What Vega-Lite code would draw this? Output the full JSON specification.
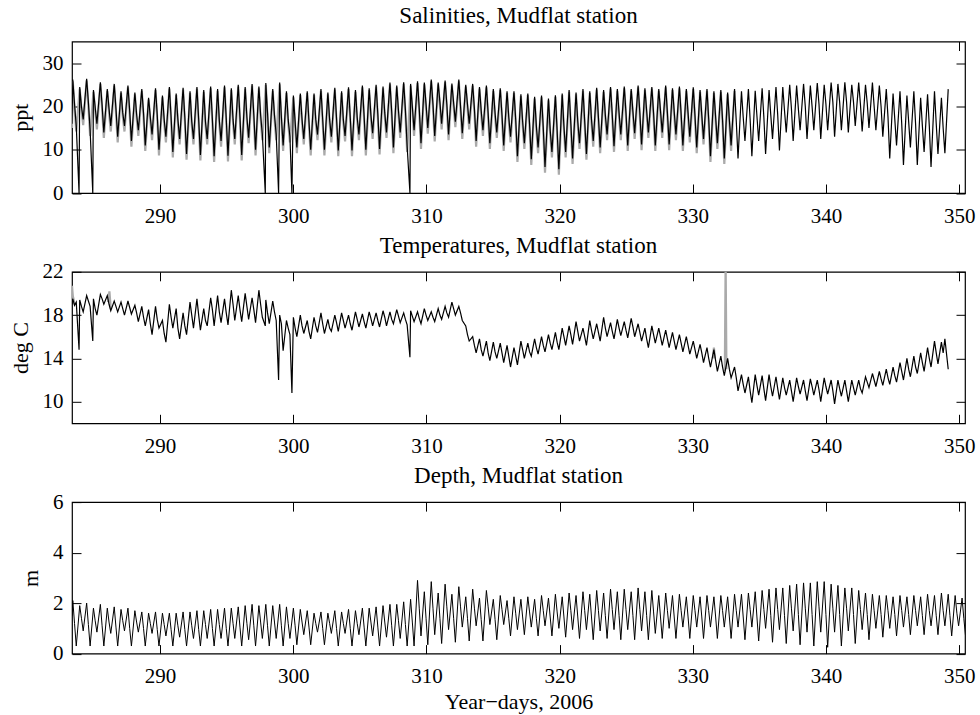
{
"$schema":"https://vega.github.io/schema/vega-lite/v6.json",
"padding":{"left":8,"top":3.5,"right":5,"bottom":3},
"bounds":"flush",
"spacing":78.3,
"config":{
 "font":"Liberation Serif",
 "view":{"stroke":"black","strokeWidth":1.2},
 "axis":{"domain":false,"grid":false,"tickColor":"black","tickSize":-9,"tickWidth":1,"labelFont":"Liberation Serif","labelFontSize":21,"labelColor":"black","titleFont":"Liberation Serif","titleFontSize":22,"titleFontWeight":"normal","titleColor":"black","labelFlush":false,"labelOverlap":false},
 "axisX":{"labelPadding":21,"titlePadding":5},
 "axisY":{"labelPadding":18,"titlePadding":10},
 "title":{"font":"Liberation Serif","fontSize":23,"fontWeight":"normal","color":"black","anchor":"middle","baseline":"alphabetic"},
 "line":{"invalid":"filter"}
},
"datasets":{
"m":[
{"t":283.39,"s":16,"g":15,"c":19.0,"d":1.5},
{"t":283.45,"s":26.2,"g":25.8,"c":19.5,"d":2.1},{"t":283.58,"s":20.5,"g":19.7,"c":18.9,"d":1.2},{"t":283.71,"s":15.5,"g":14.2,"c":19.2,"d":0.3},
{"t":283.92,"s":0,"c":14.8},
{"t":283.97,"s":24.5,"g":24.1,"c":19.4,"d":1.9},{"t":284.10,"s":20.0,"g":19.2,"c":18.8,"d":1.4},{"t":284.23,"s":17.0,"g":15.7,"c":18.3,"d":0.9},
{"t":284.49,"s":26.4,"g":26.0,"c":19.8,"d":2.0},{"t":284.62,"s":21.0,"g":20.2,"c":19.3,"d":1.15},{"t":284.75,"s":14.5,"g":13.2,"c":18.8,"d":0.3},
{"t":284.95,"s":0,"c":15.6},
{"t":285.00,"s":23.8,"g":23.4,"c":19.5,"d":1.8},{"t":285.13,"s":19.8,"g":19.0,"c":18.6,"d":1.3},{"t":285.26,"s":16.0,"g":14.7,"c":18.0,"d":0.85},
{"t":285.52,"s":25.6,"g":25.2,"c":19.9,"d":1.95},{"t":285.65,"s":20.3,"g":19.5,"c":19.5,"d":1.1},{"t":285.78,"s":14.0,"g":12.7,"c":19.0,"d":0.3},
{"t":286.04,"s":24.0,"g":23.6,"c":19.8,"d":1.8},{"t":286.17,"s":19.5,"g":18.7,"c":19.0,"d":1.25},{"t":286.30,"s":15.5,"g":14.2,"c":18.4,"d":0.8},
{"t":286.56,"s":25.2,"g":24.8,"c":19.3,"d":1.85},{"t":286.69,"s":19.5,"g":18.7,"c":18.8,"d":1.05},{"t":286.82,"s":13.0,"g":11.7,"c":18.3,"d":0.3},
{"t":287.07,"s":23.5,"g":23.1,"c":19.2,"d":1.75},{"t":287.20,"s":18.5,"g":17.7,"c":18.6,"d":1.3},{"t":287.33,"s":15.5,"g":14.2,"c":18.0,"d":0.9},
{"t":287.59,"s":24.8,"g":24.4,"c":19.3,"d":1.8},{"t":287.72,"s":19.0,"g":18.2,"c":18.7,"d":1.0},{"t":287.85,"s":12.0,"g":10.7,"c":18.1,"d":0.3},
{"t":288.11,"s":23.2,"g":22.8,"c":18.9,"d":1.7},{"t":288.24,"s":18.2,"g":17.4,"c":18.2,"d":1.25},{"t":288.37,"s":14.5,"g":13.2,"c":17.4,"d":0.85},
{"t":288.63,"s":24.0,"g":23.6,"c":18.8,"d":1.65},{"t":288.76,"s":18.5,"g":17.7,"c":17.8,"d":1.0},{"t":288.89,"s":11.0,"g":9.7,"c":17.0,"d":0.3},
{"t":289.14,"s":22.0,"g":21.6,"c":18.5,"d":1.6},{"t":289.27,"s":17.5,"g":16.7,"c":17.2,"d":1.2},{"t":289.40,"s":13.5,"g":12.2,"c":16.2,"d":0.8},
{"t":289.66,"s":24.2,"g":23.8,"c":18.8,"d":1.65},{"t":289.79,"s":18.0,"g":17.2,"c":17.6,"d":0.95},{"t":289.92,"s":10.0,"g":8.7,"c":16.8,"d":0.3},
{"t":290.18,"s":22.5,"g":22.1,"c":17.5,"d":1.6},{"t":290.31,"s":17.0,"g":16.2,"c":16.3,"d":1.15},{"t":290.44,"s":13.0,"g":11.7,"c":15.5,"d":0.7},
{"t":290.70,"s":24.5,"g":24.1,"c":19.0,"d":1.6},{"t":290.83,"s":17.5,"g":16.7,"c":17.8,"d":0.95},{"t":290.96,"s":9.5,"g":8.2,"c":16.8,"d":0.3},
{"t":291.21,"s":23.0,"g":22.6,"c":18.6,"d":1.6},{"t":291.34,"s":17.0,"g":16.2,"c":16.8,"d":1.1},{"t":291.47,"s":12.5,"g":11.2,"c":15.8,"d":0.65},
{"t":291.73,"s":24.3,"g":23.9,"c":18.2,"d":1.65},{"t":291.86,"s":17.5,"g":16.7,"c":17.0,"d":0.95},{"t":291.99,"s":9.0,"g":7.7,"c":16.2,"d":0.3},
{"t":292.25,"s":23.5,"g":23.1,"c":19.2,"d":1.65},{"t":292.38,"s":16.5,"g":15.7,"c":18.0,"d":1.1},{"t":292.51,"s":12.5,"g":11.2,"c":16.8,"d":0.6},
{"t":292.77,"s":24.5,"g":24.1,"c":19.5,"d":1.7},{"t":292.90,"s":17.0,"g":16.2,"c":18.0,"d":0.95},{"t":293.03,"s":8.8,"g":7.5,"c":16.6,"d":0.3},
{"t":293.28,"s":23.8,"g":23.4,"c":18.6,"d":1.7},{"t":293.41,"s":16.5,"g":15.7,"c":17.5,"d":1.15},{"t":293.54,"s":12.5,"g":11.2,"c":17.0,"d":0.6},
{"t":293.80,"s":24.6,"g":24.2,"c":19.6,"d":1.75},{"t":293.93,"s":17.0,"g":16.2,"c":18.5,"d":1.0},{"t":294.06,"s":8.5,"g":7.2,"c":17.0,"d":0.3},
{"t":294.32,"s":24.0,"g":23.6,"c":19.8,"d":1.75},{"t":294.45,"s":16.8,"g":16.0,"c":18.3,"d":1.15},{"t":294.58,"s":12.0,"g":10.7,"c":17.3,"d":0.6},
{"t":294.84,"s":24.8,"g":24.4,"c":19.5,"d":1.8},{"t":294.97,"s":17.2,"g":16.4,"c":18.2,"d":1.0},{"t":295.10,"s":8.6,"g":7.3,"c":17.1,"d":0.3},
{"t":295.35,"s":24.2,"g":23.8,"c":20.3,"d":1.8},{"t":295.48,"s":17.0,"g":16.2,"c":19.0,"d":1.2},{"t":295.61,"s":12.5,"g":11.2,"c":17.5,"d":0.6},
{"t":295.87,"s":25.0,"g":24.6,"c":19.8,"d":1.85},{"t":296.00,"s":17.5,"g":16.7,"c":18.5,"d":1.05},{"t":296.13,"s":8.8,"g":7.5,"c":17.4,"d":0.3},
{"t":296.39,"s":24.5,"g":24.1,"c":20.0,"d":1.9},{"t":296.52,"s":17.5,"g":16.7,"c":18.8,"d":1.2},{"t":296.65,"s":12.8,"g":11.5,"c":17.6,"d":0.55},
{"t":296.91,"s":25.2,"g":24.8,"c":19.6,"d":1.95},{"t":297.04,"s":18.0,"g":17.2,"c":18.5,"d":1.1},{"t":297.17,"s":10.0,"g":8.7,"c":17.3,"d":0.3},
{"t":297.42,"s":24.6,"g":24.2,"c":20.3,"d":1.9},{"t":297.55,"s":18.0,"g":17.2,"c":19.0,"d":1.25},{"t":297.68,"s":13.5,"g":12.2,"c":17.8,"d":0.6},
{"t":297.90,"s":0,"c":17.0},
{"t":297.94,"s":25.4,"g":25.0,"c":19.4,"d":1.95},{"t":298.07,"s":18.5,"g":17.7,"c":18.2,"d":1.1},{"t":298.20,"s":10.5,"g":9.2,"c":17.2,"d":0.3},
{"t":298.46,"s":24.0,"g":23.6,"c":19.3,"d":1.9},{"t":298.59,"s":18.0,"g":17.2,"c":18.3,"d":1.25},{"t":298.72,"s":13.5,"g":12.2,"c":17.5,"d":0.6},
{"t":298.90,"s":0,"c":12.0},
{"t":298.98,"s":25.5,"g":25.1,"c":18.0,"d":1.95},{"t":299.11,"s":17.5,"g":16.7,"c":17.2,"d":1.1},{"t":299.24,"s":11.0,"g":9.7,"c":14.7,"d":0.3},
{"t":299.49,"s":23.5,"g":23.1,"c":17.5,"d":1.85},{"t":299.62,"s":17.0,"g":16.2,"c":16.8,"d":1.2},{"t":299.75,"s":13.0,"g":11.7,"c":16.2,"d":0.6},
{"t":299.90,"s":0,"c":10.8},
{"t":300.01,"s":22.5,"g":22.1,"c":17.8,"d":1.8},{"t":300.14,"s":16.5,"g":15.7,"c":16.8,"d":1.1},{"t":300.27,"s":10.5,"g":9.2,"c":16.0,"d":0.35},
{"t":300.53,"s":23.0,"g":22.6,"c":18.0,"d":1.75},{"t":300.66,"s":17.0,"g":16.2,"c":17.0,"d":1.25},{"t":300.79,"s":12.5,"g":11.2,"c":16.3,"d":0.75},
{"t":301.05,"s":23.5,"g":23.1,"c":17.5,"d":1.7},{"t":301.18,"s":16.5,"g":15.7,"c":16.5,"d":1.05},{"t":301.31,"s":10.0,"g":8.7,"c":15.8,"d":0.35},
{"t":301.56,"s":23.0,"g":22.6,"c":17.8,"d":1.6},{"t":301.69,"s":17.0,"g":16.2,"c":17.0,"d":1.2},{"t":301.82,"s":13.5,"g":12.2,"c":16.4,"d":0.85},
{"t":302.08,"s":24.0,"g":23.6,"c":18.2,"d":1.65},{"t":302.21,"s":17.0,"g":16.2,"c":17.2,"d":1.0},{"t":302.34,"s":10.0,"g":8.7,"c":16.3,"d":0.35},
{"t":302.60,"s":23.2,"g":22.8,"c":17.6,"d":1.6},{"t":302.73,"s":17.0,"g":16.2,"c":16.8,"d":1.2},{"t":302.86,"s":13.0,"g":11.7,"c":16.5,"d":0.8},
{"t":303.12,"s":24.3,"g":23.9,"c":18.0,"d":1.7},{"t":303.25,"s":17.2,"g":16.4,"c":17.3,"d":1.0},{"t":303.38,"s":9.8,"g":8.5,"c":16.5,"d":0.3},
{"t":303.63,"s":23.5,"g":23.1,"c":18.2,"d":1.65},{"t":303.76,"s":17.0,"g":16.2,"c":17.5,"d":1.2},{"t":303.89,"s":13.2,"g":11.9,"c":16.8,"d":0.8},
{"t":304.15,"s":24.4,"g":24.0,"c":18.0,"d":1.75},{"t":304.28,"s":17.5,"g":16.7,"c":17.2,"d":1.0},{"t":304.41,"s":9.8,"g":8.5,"c":16.6,"d":0.3},
{"t":304.67,"s":23.8,"g":23.4,"c":18.3,"d":1.7},{"t":304.80,"s":17.5,"g":16.7,"c":17.6,"d":1.2},{"t":304.93,"s":13.5,"g":12.2,"c":16.9,"d":0.75},
{"t":305.19,"s":24.8,"g":24.4,"c":18.1,"d":1.8},{"t":305.32,"s":17.8,"g":17.0,"c":17.4,"d":1.05},{"t":305.45,"s":10.0,"g":8.7,"c":16.8,"d":0.3},
{"t":305.70,"s":24.2,"g":23.8,"c":18.3,"d":1.8},{"t":305.83,"s":18.0,"g":17.2,"c":17.7,"d":1.25},{"t":305.96,"s":13.8,"g":12.5,"c":17.0,"d":0.7},
{"t":306.22,"s":25.0,"g":24.6,"c":18.2,"d":1.85},{"t":306.35,"s":18.2,"g":17.4,"c":17.5,"d":1.05},{"t":306.48,"s":10.2,"g":8.9,"c":16.9,"d":0.3},
{"t":306.74,"s":24.6,"g":24.2,"c":18.4,"d":1.9},{"t":306.87,"s":18.5,"g":17.7,"c":17.8,"d":1.25},{"t":307.00,"s":14.0,"g":12.7,"c":17.0,"d":0.65},
{"t":307.26,"s":25.5,"g":25.1,"c":18.3,"d":1.95},{"t":307.39,"s":18.8,"g":18.0,"c":17.6,"d":1.1},{"t":307.52,"s":10.5,"g":9.2,"c":17.2,"d":0.3},
{"t":307.77,"s":24.8,"g":24.4,"c":18.5,"d":1.95},{"t":307.90,"s":19.0,"g":18.2,"c":17.9,"d":1.3},{"t":308.03,"s":14.0,"g":12.7,"c":17.3,"d":0.6},
{"t":308.29,"s":25.6,"g":25.2,"c":18.2,"d":2.05},{"t":308.42,"s":19.2,"g":18.4,"c":17.6,"d":1.15},{"t":308.55,"s":10.8,"g":9.5,"c":17.1,"d":0.3},
{"t":308.76,"s":0,"c":14.1},
{"t":308.81,"s":25.2,"g":24.8,"c":18.4,"d":2.15},{"t":308.94,"s":20.0,"g":19.2,"c":17.9,"d":1.25},{"t":309.07,"s":14.5,"g":13.2,"c":17.4,"d":0.3},
{"t":309.33,"s":25.8,"g":25.4,"c":18.3,"d":2.9},{"t":309.46,"s":19.5,"g":18.7,"c":17.7,"d":1.8},{"t":309.59,"s":11.5,"g":10.2,"c":17.2,"d":0.7},
{"t":309.84,"s":25.5,"g":25.1,"c":18.6,"d":2.45},{"t":309.97,"s":20.5,"g":19.7,"c":18.0,"d":1.4},{"t":310.10,"s":15.0,"g":13.7,"c":17.5,"d":0.35},
{"t":310.36,"s":26.2,"g":25.8,"c":18.3,"d":2.85},{"t":310.49,"s":20.5,"g":19.7,"c":17.8,"d":1.8},{"t":310.62,"s":13.2,"g":11.9,"c":17.4,"d":0.75},
{"t":310.88,"s":25.5,"g":25.1,"c":18.6,"d":2.4},{"t":311.01,"s":21.0,"g":20.2,"c":18.0,"d":1.4},{"t":311.14,"s":16.0,"g":14.7,"c":17.6,"d":0.4},
{"t":311.40,"s":26.0,"g":25.6,"c":18.8,"d":2.75},{"t":311.53,"s":20.5,"g":19.7,"c":18.2,"d":1.85},{"t":311.66,"s":13.5,"g":12.2,"c":17.8,"d":0.95},
{"t":311.91,"s":25.3,"g":24.9,"c":19.2,"d":2.35},{"t":312.04,"s":20.8,"g":20.0,"c":18.6,"d":1.4},{"t":312.17,"s":16.5,"g":15.2,"c":18.0,"d":0.45},
{"t":312.43,"s":26.2,"g":25.8,"c":18.8,"d":2.65},{"t":312.56,"s":20.0,"g":19.2,"c":18.2,"d":1.85},{"t":312.69,"s":13.8,"g":12.5,"c":17.5,"d":1.05},
{"t":312.95,"s":25.0,"g":24.6,"c":17.0,"d":2.25},{"t":313.08,"s":20.5,"g":19.7,"c":16.2,"d":1.4},{"t":313.21,"s":16.0,"g":14.7,"c":15.6,"d":0.5},
{"t":313.47,"s":25.2,"g":24.8,"c":16.0,"d":2.55},{"t":313.60,"s":19.5,"g":18.7,"c":15.2,"d":1.8},{"t":313.73,"s":12.0,"g":10.7,"c":14.5,"d":1.1},
{"t":313.98,"s":24.5,"g":24.1,"c":15.8,"d":2.2},{"t":314.11,"s":19.0,"g":18.2,"c":14.8,"d":1.35},{"t":314.24,"s":14.5,"g":13.2,"c":14.2,"d":0.5},
{"t":314.50,"s":24.8,"g":24.4,"c":15.6,"d":2.5},{"t":314.63,"s":18.5,"g":17.7,"c":14.5,"d":1.85},{"t":314.76,"s":11.5,"g":10.2,"c":13.8,"d":1.15},
{"t":315.02,"s":24.0,"g":23.6,"c":15.5,"d":2.15},{"t":315.15,"s":18.5,"g":17.7,"c":14.6,"d":1.35},{"t":315.28,"s":14.0,"g":12.7,"c":14.0,"d":0.55},
{"t":315.54,"s":24.2,"g":23.8,"c":15.4,"d":2.3},{"t":315.67,"s":18.0,"g":17.2,"c":14.5,"d":1.75},{"t":315.80,"s":11.0,"g":9.7,"c":13.6,"d":1.15},
{"t":316.05,"s":23.5,"g":23.1,"c":15.2,"d":2.1},{"t":316.18,"s":17.5,"g":16.7,"c":14.2,"d":1.4},{"t":316.31,"s":13.0,"g":11.7,"c":13.2,"d":0.7},
{"t":316.57,"s":23.5,"g":23.1,"c":15.0,"d":2.25},{"t":316.70,"s":17.0,"g":16.2,"c":14.2,"d":1.6},{"t":316.83,"s":8.5,"g":7.2,"c":13.4,"d":0.95},
{"t":317.09,"s":22.8,"g":22.4,"c":15.6,"d":2.15},{"t":317.22,"s":16.5,"g":15.7,"c":14.8,"d":1.45},{"t":317.35,"s":11.5,"g":10.2,"c":14.0,"d":0.75},
{"t":317.61,"s":23.0,"g":22.6,"c":15.4,"d":2.25},{"t":317.74,"s":16.0,"g":15.2,"c":14.6,"d":1.65},{"t":317.87,"s":7.8,"g":6.5,"c":14.2,"d":1.05},
{"t":318.12,"s":22.2,"g":21.8,"c":15.8,"d":2.15},{"t":318.25,"s":15.5,"g":14.7,"c":15.0,"d":1.4},{"t":318.38,"s":10.5,"g":9.2,"c":14.4,"d":0.7},
{"t":318.64,"s":22.5,"g":22.1,"c":16.0,"d":2.3},{"t":318.77,"s":15.0,"g":14.2,"c":15.2,"d":1.7},{"t":318.90,"s":6.0,"g":4.7,"c":14.6,"d":1.1},
{"t":319.16,"s":21.8,"g":21.4,"c":16.2,"d":2.2},{"t":319.29,"s":14.5,"g":13.7,"c":15.4,"d":1.45},{"t":319.42,"s":9.5,"g":8.2,"c":14.8,"d":0.7},
{"t":319.68,"s":22.6,"g":22.2,"c":16.4,"d":2.35},{"t":319.81,"s":14.5,"g":13.7,"c":15.5,"d":1.65},{"t":319.94,"s":5.5,"g":4.2,"c":14.8,"d":1.0},
{"t":320.19,"s":23.0,"g":22.6,"c":16.8,"d":2.25},{"t":320.32,"s":15.5,"g":14.7,"c":16.0,"d":1.45},{"t":320.45,"s":9.5,"g":8.2,"c":15.2,"d":0.65},
{"t":320.71,"s":23.8,"g":23.4,"c":17.0,"d":2.4},{"t":320.84,"s":16.0,"g":15.2,"c":16.2,"d":1.7},{"t":320.97,"s":8.0,"g":6.7,"c":15.3,"d":0.95},
{"t":321.23,"s":23.2,"g":22.8,"c":17.4,"d":2.3},{"t":321.36,"s":16.5,"g":15.7,"c":16.5,"d":1.45},{"t":321.49,"s":11.5,"g":10.2,"c":15.6,"d":0.6},
{"t":321.75,"s":24.0,"g":23.6,"c":16.8,"d":2.45},{"t":321.88,"s":16.5,"g":15.7,"c":16.0,"d":1.7},{"t":322.01,"s":9.0,"g":7.7,"c":15.2,"d":0.95},
{"t":322.26,"s":23.5,"g":23.1,"c":17.5,"d":2.35},{"t":322.39,"s":17.0,"g":16.2,"c":16.6,"d":1.45},{"t":322.52,"s":12.0,"g":10.7,"c":15.8,"d":0.55},
{"t":322.78,"s":24.3,"g":23.9,"c":17.2,"d":2.5},{"t":322.91,"s":17.5,"g":16.7,"c":16.4,"d":1.7},{"t":323.04,"s":10.5,"g":9.2,"c":15.6,"d":0.9},
{"t":323.30,"s":23.8,"g":23.4,"c":17.8,"d":2.4},{"t":323.43,"s":18.0,"g":17.2,"c":16.8,"d":1.5},{"t":323.56,"s":13.5,"g":12.2,"c":16.0,"d":0.6},
{"t":323.82,"s":24.5,"g":24.1,"c":17.3,"d":2.55},{"t":323.95,"s":18.0,"g":17.2,"c":16.5,"d":1.75},{"t":324.08,"s":10.8,"g":9.5,"c":15.8,"d":0.95},
{"t":324.33,"s":24.0,"g":23.6,"c":17.6,"d":2.45},{"t":324.46,"s":18.5,"g":17.7,"c":16.8,"d":1.5},{"t":324.59,"s":13.5,"g":12.2,"c":16.1,"d":0.55},
{"t":324.85,"s":24.6,"g":24.2,"c":17.4,"d":2.55},{"t":324.98,"s":18.5,"g":17.7,"c":16.6,"d":1.75},{"t":325.11,"s":11.0,"g":9.7,"c":15.9,"d":0.95},
{"t":325.37,"s":24.0,"g":23.6,"c":17.7,"d":2.45},{"t":325.50,"s":18.8,"g":18.0,"c":16.9,"d":1.5},{"t":325.63,"s":13.8,"g":12.5,"c":16.0,"d":0.55},
{"t":325.89,"s":24.8,"g":24.4,"c":17.2,"d":2.6},{"t":326.02,"s":18.5,"g":17.7,"c":16.4,"d":1.75},{"t":326.15,"s":11.2,"g":9.9,"c":15.6,"d":0.9},
{"t":326.40,"s":24.2,"g":23.8,"c":16.8,"d":2.45},{"t":326.53,"s":19.0,"g":18.2,"c":15.8,"d":1.5},{"t":326.66,"s":14.0,"g":12.7,"c":15.0,"d":0.55},
{"t":326.92,"s":24.5,"g":24.1,"c":17.0,"d":2.5},{"t":327.05,"s":18.5,"g":17.7,"c":16.2,"d":1.65},{"t":327.18,"s":11.0,"g":9.7,"c":15.4,"d":0.8},
{"t":327.44,"s":24.0,"g":23.6,"c":16.8,"d":2.3},{"t":327.57,"s":19.0,"g":18.2,"c":16.0,"d":1.45},{"t":327.70,"s":14.0,"g":12.7,"c":15.2,"d":0.6},
{"t":327.96,"s":24.8,"g":24.4,"c":16.6,"d":2.4},{"t":328.09,"s":18.5,"g":17.7,"c":15.8,"d":1.7},{"t":328.22,"s":11.2,"g":9.9,"c":15.0,"d":1.0},
{"t":328.47,"s":24.2,"g":23.8,"c":16.4,"d":2.3},{"t":328.60,"s":18.8,"g":18.0,"c":15.6,"d":1.45},{"t":328.73,"s":13.5,"g":12.2,"c":14.8,"d":0.6},
{"t":328.99,"s":24.6,"g":24.2,"c":16.2,"d":2.35},{"t":329.12,"s":18.2,"g":17.4,"c":15.4,"d":1.7},{"t":329.25,"s":11.0,"g":9.7,"c":14.6,"d":1.05},
{"t":329.51,"s":24.0,"g":23.6,"c":16.0,"d":2.25},{"t":329.64,"s":18.5,"g":17.7,"c":15.2,"d":1.45},{"t":329.77,"s":13.0,"g":11.7,"c":14.4,"d":0.6},
{"t":330.03,"s":24.4,"g":24.0,"c":15.6,"d":2.3},{"t":330.16,"s":17.8,"g":17.0,"c":14.8,"d":1.7},{"t":330.29,"s":10.5,"g":9.2,"c":14.0,"d":1.05},
{"t":330.54,"s":23.8,"g":23.4,"c":15.3,"d":2.25},{"t":330.67,"s":18.0,"g":17.2,"c":14.5,"d":1.45},{"t":330.80,"s":12.5,"g":11.2,"c":13.6,"d":0.6},
{"t":331.06,"s":24.0,"g":23.6,"c":15.0,"d":2.3},{"t":331.19,"s":17.0,"g":16.2,"c":14.0,"d":1.7},{"t":331.32,"s":8.5,"g":7.2,"c":13.2,"d":1.05},
{"t":331.58,"s":23.5,"g":23.1,"c":14.8,"d":2.25},{"t":331.71,"s":17.5,"g":16.7,"c":13.8,"d":1.45},{"t":331.84,"s":11.5,"g":10.2,"c":12.8,"d":0.6},
{"t":332.10,"s":23.8,"g":23.4,"c":14.2,"d":2.3},{"t":332.23,"s":16.8,"g":16.0,"c":13.2,"d":1.7},{"t":332.36,"s":8.0,"g":6.7,"c":12.4,"d":1.05},
{"t":332.61,"s":23.2,"g":22.8,"c":14.0,"d":2.25},{"t":332.74,"s":17.0,"g":16.2,"c":13.0,"d":1.45},{"t":332.87,"s":11.0,"g":9.7,"c":12.2,"d":0.6},
{"t":333.13,"s":24.0,"g":23.6,"c":13.2,"d":2.35},{"t":333.26,"s":16.5,"c":12.2,"d":1.7},{"t":333.39,"s":8.0,"c":11.0,"d":1.05},
{"t":333.65,"s":23.5,"c":12.5,"d":2.35},{"t":333.78,"s":17.5,"c":11.6,"d":1.45},{"t":333.91,"s":12.0,"c":10.8,"d":0.55},
{"t":334.17,"s":24.0,"c":12.3,"d":2.4},{"t":334.30,"s":17.0,"c":11.0,"d":1.75},{"t":334.43,"s":8.5,"c":9.9,"d":1.05},
{"t":334.68,"s":23.6,"c":12.5,"d":2.45},{"t":334.81,"s":17.8,"c":11.5,"d":1.45},{"t":334.94,"s":12.0,"c":10.6,"d":0.5},
{"t":335.20,"s":24.2,"c":12.4,"d":2.5},{"t":335.33,"s":17.5,"c":11.2,"d":1.75},{"t":335.46,"s":9.0,"c":10.1,"d":1.0},
{"t":335.72,"s":23.8,"c":12.5,"d":2.55},{"t":335.85,"s":18.0,"c":11.4,"d":1.5},{"t":335.98,"s":12.5,"c":10.5,"d":0.45},
{"t":336.24,"s":24.5,"c":12.3,"d":2.6},{"t":336.37,"s":18.0,"c":11.2,"d":1.75},{"t":336.50,"s":9.8,"c":10.2,"d":0.95},
{"t":336.75,"s":24.5,"c":12.2,"d":2.6},{"t":336.88,"s":19.0,"c":11.3,"d":1.5},{"t":337.01,"s":14.0,"c":10.6,"d":0.4},
{"t":337.27,"s":25.0,"c":12.0,"d":2.7},{"t":337.40,"s":19.5,"c":11.0,"d":1.8},{"t":337.53,"s":12.0,"c":10.0,"d":0.9},
{"t":337.79,"s":24.8,"c":12.2,"d":2.75},{"t":337.92,"s":19.5,"c":11.4,"d":1.55},{"t":338.05,"s":14.5,"c":10.7,"d":0.35},
{"t":338.31,"s":25.2,"c":12.0,"d":2.8},{"t":338.44,"s":20.0,"c":11.0,"d":1.8},{"t":338.57,"s":12.5,"c":10.1,"d":0.85},
{"t":338.82,"s":24.8,"c":12.1,"d":2.8},{"t":338.95,"s":20.0,"c":11.4,"d":1.55},{"t":339.08,"s":14.5,"c":10.6,"d":0.3},
{"t":339.34,"s":25.4,"c":12.0,"d":2.85},{"t":339.47,"s":20.5,"c":11.1,"d":1.85},{"t":339.60,"s":12.5,"c":10.0,"d":0.85},
{"t":339.86,"s":25.0,"c":12.2,"d":2.85},{"t":339.99,"s":20.5,"c":11.4,"d":1.55},{"t":340.12,"s":14.5,"c":10.7,"d":0.25},
{"t":340.38,"s":25.5,"c":12.0,"d":2.75},{"t":340.51,"s":21.0,"c":11.0,"d":1.8},{"t":340.64,"s":13.0,"c":9.8,"d":0.85},
{"t":340.89,"s":25.2,"c":12.0,"d":2.7},{"t":341.02,"s":21.0,"c":11.2,"d":1.55},{"t":341.15,"s":14.5,"c":10.5,"d":0.3},
{"t":341.41,"s":25.6,"c":12.0,"d":2.6},{"t":341.54,"s":21.0,"c":11.0,"d":1.8},{"t":341.67,"s":14.0,"c":10.0,"d":0.9},
{"t":341.93,"s":25.0,"c":12.0,"d":2.6},{"t":342.06,"s":21.0,"c":11.3,"d":1.55},{"t":342.19,"s":15.5,"c":10.6,"d":0.4},
{"t":342.45,"s":25.5,"c":12.0,"d":2.5},{"t":342.58,"s":20.5,"c":11.2,"d":1.75},{"t":342.71,"s":14.2,"c":10.8,"d":0.95},
{"t":342.96,"s":25.0,"c":12.3,"d":2.4},{"t":343.09,"s":20.8,"c":11.8,"d":1.55},{"t":343.22,"s":15.0,"c":11.3,"d":0.55},
{"t":343.48,"s":25.5,"c":12.6,"d":2.35},{"t":343.61,"s":20.0,"c":12.0,"d":1.7},{"t":343.74,"s":14.5,"c":11.4,"d":1.0},
{"t":344.00,"s":24.8,"c":12.8,"d":2.3},{"t":344.13,"s":20.0,"c":12.1,"d":1.55},{"t":344.26,"s":13.0,"c":11.5,"d":0.65},
{"t":344.52,"s":24.0,"c":13.0,"d":2.3},{"t":344.65,"s":17.5,"c":12.2,"d":1.7},{"t":344.78,"s":8.0,"c":11.6,"d":1.0},
{"t":345.03,"s":23.0,"c":13.2,"d":2.25},{"t":345.16,"s":17.0,"c":12.4,"d":1.55},{"t":345.29,"s":11.0,"c":11.8,"d":0.7},
{"t":345.55,"s":23.5,"c":13.6,"d":2.3},{"t":345.68,"s":16.0,"c":12.8,"d":1.7},{"t":345.81,"s":6.5,"c":12.0,"d":1.05},
{"t":346.07,"s":22.5,"c":14.0,"d":2.25},{"t":346.20,"s":16.5,"c":13.0,"d":1.55},{"t":346.33,"s":10.5,"c":12.3,"d":0.75},
{"t":346.59,"s":23.5,"c":14.2,"d":2.3},{"t":346.72,"s":16.0,"c":13.2,"d":1.7},{"t":346.85,"s":6.5,"c":12.6,"d":1.1},
{"t":347.10,"s":22.0,"c":14.5,"d":2.25},{"t":347.23,"s":15.5,"c":13.6,"d":1.5},{"t":347.36,"s":9.5,"c":12.8,"d":0.75},
{"t":347.62,"s":22.8,"c":15.0,"d":2.35},{"t":347.75,"s":15.5,"c":14.0,"d":1.7},{"t":347.88,"s":6.0,"c":13.2,"d":1.1},
{"t":348.14,"s":23.5,"c":15.6,"d":2.3},{"t":348.27,"s":16.0,"c":14.5,"d":1.5},{"t":348.40,"s":9.0,"c":13.5,"d":0.75},
{"t":348.66,"s":22.0,"c":15.5,"d":2.4},{"t":348.79,"s":15.0,"c":14.5,"d":1.7},{"t":348.92,"s":9.2,"c":15.8,"d":1.1},
{"t":349.17,"s":24.0,"c":13.0,"d":2.35},{"t":349.30,"d":1.5},{"t":349.43,"d":0.7},
{"t":349.69,"d":2.3},{"t":349.82,"d":1.6},{"t":349.95,"d":1.1},
{"t":350.21,"d":2.2},{"t":350.34,"d":1.4},{"t":350.47,"d":0.7}
],
"tg":[
{"t":283.39,"v":20.7,"seg":"a"},{"t":283.45,"v":19.8,"seg":"a"},{"t":283.58,"v":19.0,"seg":"a"},
{"t":286.10,"v":19.2,"seg":"b"},{"t":286.20,"v":20.2,"seg":"b"},{"t":286.30,"v":18.6,"seg":"b"},
{"t":331.50,"v":14.0,"seg":"c"},{"t":331.58,"v":15.0,"seg":"c"},{"t":331.66,"v":14.0,"seg":"c"},
{"t":332.40,"v":12.8,"seg":"d"},{"t":332.46,"v":23.0,"seg":"d"},{"t":332.52,"v":13.0,"seg":"d"}
]
},
"vconcat":[
{
 "title":{"text":"Salinities, Mudflat station","offset":13},
 "width":893,"height":151.5,
 "data":{"name":"m"},
 "layer":[
  {"mark":{"type":"line","color":"#aaaaaa","strokeWidth":2.2,"clip":true,"invalid":"filter"},
   "encoding":{
    "x":{"field":"t","type":"quantitative","scale":{"domain":[283.39,350.43],"nice":false,"zero":false},"axis":{"orient":"top","labels":false,"title":null,"values":[290,300,310,320,330,340,350]}},
    "y":{"field":"g","type":"quantitative","scale":{"domain":[0,35],"nice":false},"axis":{"orient":"right","labels":false,"title":null,"values":[0,10,20,30]}}}},
  {"mark":{"type":"line","color":"black","strokeWidth":1.2,"clip":true,"invalid":"filter"},
   "encoding":{
    "x":{"field":"t","type":"quantitative","axis":{"orient":"bottom","title":null,"values":[290,300,310,320,330,340,350]}},
    "y":{"field":"s","type":"quantitative","axis":{"orient":"left","title":"ppt","values":[0,10,20,30]}}}}
 ],
 "resolve":{"axis":{"x":"independent","y":"independent"}}
},
{
 "title":{"text":"Temperatures, Mudflat station","offset":3},
 "width":893,"height":151.5,
 "layer":[
  {"data":{"name":"tg"},
   "mark":{"type":"line","color":"#aaaaaa","strokeWidth":2.2,"clip":true,"invalid":"filter"},
   "encoding":{
    "x":{"field":"t","type":"quantitative","scale":{"domain":[283.39,350.43],"nice":false,"zero":false},"axis":{"orient":"top","labels":false,"title":null,"values":[290,300,310,320,330,340,350]}},
    "y":{"field":"v","type":"quantitative","scale":{"domain":[8,22],"nice":false,"zero":false},"axis":{"orient":"right","labels":false,"title":null,"values":[10,14,18,22]}},
    "detail":{"field":"seg"}}},
  {"data":{"name":"m"},
   "mark":{"type":"line","color":"black","strokeWidth":1.2,"clip":true,"invalid":"filter"},
   "encoding":{
    "x":{"field":"t","type":"quantitative","axis":{"orient":"bottom","title":null,"values":[290,300,310,320,330,340,350]}},
    "y":{"field":"c","type":"quantitative","axis":{"orient":"left","title":"deg C","values":[10,14,18,22]}}}}
 ],
 "resolve":{"axis":{"x":"independent","y":"independent"}}
},
{
 "title":{"text":"Depth, Mudflat station","offset":3},
 "width":893,"height":151.5,
 "data":{"name":"m"},
 "layer":[
  {"mark":{"type":"line","color":"black","opacity":0,"strokeWidth":1,"clip":true,"invalid":"filter"},
   "encoding":{
    "x":{"field":"t","type":"quantitative","scale":{"domain":[283.39,350.43],"nice":false,"zero":false},"axis":{"orient":"top","labels":false,"title":null,"values":[290,300,310,320,330,340,350]}},
    "y":{"field":"d","type":"quantitative","scale":{"domain":[0,6],"nice":false},"axis":{"orient":"right","labels":false,"title":null,"values":[0,2,4,6]}}}},
  {"mark":{"type":"line","color":"black","strokeWidth":1,"clip":true,"invalid":"filter"},
   "encoding":{
    "x":{"field":"t","type":"quantitative","axis":{"orient":"bottom","title":"Year−days, 2006","values":[290,300,310,320,330,340,350]}},
    "y":{"field":"d","type":"quantitative","axis":{"orient":"left","title":"m","values":[0,2,4,6]}}}}
 ],
 "resolve":{"axis":{"x":"independent","y":"independent"}}
}
]
}
